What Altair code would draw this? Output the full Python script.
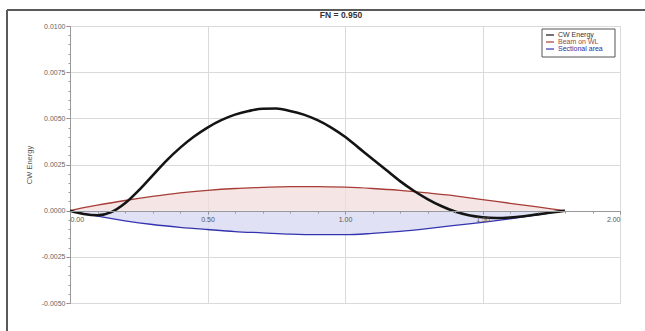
import altair as alt
import pandas as pd

# ---- data ----
cw_x = [0.00, 0.05, 0.10, 0.15, 0.20, 0.25, 0.30, 0.35, 0.40, 0.45, 0.50, 0.55,
        0.60, 0.65, 0.70, 0.75, 0.80, 0.85, 0.90, 0.95, 1.00, 1.05, 1.10, 1.15,
        1.20, 1.25, 1.30, 1.35, 1.40, 1.45, 1.50, 1.55, 1.60, 1.65, 1.70, 1.75, 1.80]
cw_energy = [0.0, -0.00018, -0.00025, -0.00008, 0.0004, 0.0011, 0.0019, 0.0027, 0.0034,
             0.0040, 0.0045, 0.0049, 0.0052, 0.0054, 0.00552, 0.00553, 0.0054, 0.0052,
             0.0049, 0.0045, 0.0040, 0.0034, 0.0028, 0.0022, 0.0016, 0.00108, 0.00063,
             0.00025, -0.00005, -0.00025, -0.00036, -0.0004, -0.00037, -0.0003, -0.0002,
             -0.0001, 0.0]

hull_x = [0.00, 0.05, 0.10, 0.20, 0.30, 0.40, 0.50, 0.60, 0.70, 0.80, 0.90, 1.00,
          1.10, 1.20, 1.30, 1.40, 1.50, 1.60, 1.70, 1.80]
beam_on_wl = [0.0, 0.00016, 0.0003, 0.00055, 0.00077, 0.00096, 0.0011, 0.0012, 0.00126,
              0.0013, 0.0013, 0.00127, 0.0012, 0.0011, 0.00096, 0.0008, 0.0006, 0.0004,
              0.0002, 0.0]
sectional_area = [0.0, -0.00016, -0.0003, -0.00055, -0.00075, -0.0009, -0.00102, -0.00113,
                  -0.0012, -0.00127, -0.0013, -0.0013, -0.00123, -0.00112, -0.00097,
                  -0.0008, -0.00063, -0.00044, -0.00023, 0.0]

series_names = ["CW Energy", "Beam on WL", "Sectional area"]
series_colors = ["#141414", "#a63d36", "#3434ae"]
legend_text_colors = ["#333333", "#9a4a44", "#2e2e9a"]

y_major = [-0.005, -0.0025, 0.0, 0.0025, 0.005, 0.0075, 0.01]
y_minor = [round(-0.005 + 0.0005 * i, 4) for i in range(31)]
x_major = [0.0, 0.5, 1.0, 1.5, 2.0]
x_minor = [round(0.1 * i, 1) for i in range(21)]

chart_title = "FN = 0.950"
FONT = "Liberation Sans"

cw_df = pd.DataFrame({"x": cw_x, "y": cw_energy, "series": "CW Energy"})
beam_df = pd.DataFrame({"x": hull_x, "y": beam_on_wl, "series": "Beam on WL"})
sect_df = pd.DataFrame({"x": hull_x, "y": sectional_area, "series": "Sectional area"})

xs = alt.Scale(domain=[0, 2], nice=False, zero=False)
ys = alt.Scale(domain=[-0.005, 0.01], nice=False, zero=False)
cs = alt.Scale(domain=series_names, range=series_colors)

y_label_expr = "replace(format(datum.value, '.4f'), '\u2212', '-')"

grid_x_axis = alt.Axis(values=x_major, grid=True, gridColor="#dadada", labels=False,
                       ticks=False, domain=False, title=None, orient="bottom")
main_y_axis = alt.Axis(values=y_major, grid=True, gridColor="#dadada", labelExpr=y_label_expr,
                       labelFontSize=7, labelColor="#666666", labelFont=FONT, labelPadding=1,
                       tickSize=4, tickColor="#888888", domainColor="#999999",
                       title="CW Energy", titleFont=FONT, titleFontSize=7.5,
                       titleFontWeight="normal", titleColor="#555555", titlePadding=8,
                       orient="left")
label_x_axis = alt.Axis(values=x_major, format=".2f", grid=False, labelFontSize=7,
                        labelColor="#555555", labelFont=FONT, labelPadding=1,
                        tickSize=3, tickColor="#888888", domainColor="#999999",
                        title=None, offset=-92, orient="bottom", zindex=1)
minor_x_axis = alt.Axis(values=x_minor, grid=False, labels=False, domain=False, tickSize=2,
                        tickColor="#999999", title=None, offset=-92, orient="bottom", zindex=1)
minor_y_axis = alt.Axis(values=y_minor, grid=False, labels=False, domain=False, tickSize=2,
                        tickColor="#999999", title=None, orient="left")

beam_area = alt.Chart(beam_df).mark_area(color="#f3dcdc", opacity=0.75, interpolate="monotone").encode(
    x=alt.X("x:Q", scale=xs, axis=grid_x_axis),
    y=alt.Y("y:Q", scale=ys, axis=main_y_axis),
)
sect_area = alt.Chart(sect_df).mark_area(color="#dadaf4", opacity=0.8, interpolate="monotone").encode(
    x=alt.X("x:Q", scale=xs, axis=None),
    y=alt.Y("y:Q", scale=ys, axis=None),
)

sect_line = alt.Chart(sect_df).mark_line(strokeWidth=1.3, interpolate="monotone").encode(
    x=alt.X("x:Q", scale=xs, axis=label_x_axis),
    y=alt.Y("y:Q", scale=ys, axis=None),
    color=alt.Color("series:N", scale=cs, legend=None),
)
beam_line = alt.Chart(beam_df).mark_line(strokeWidth=1.3, interpolate="monotone").encode(
    x=alt.X("x:Q", scale=xs, axis=None),
    y=alt.Y("y:Q", scale=ys, axis=None),
    color=alt.Color("series:N", scale=cs, legend=None),
)
cw_line = alt.Chart(cw_df).mark_line(strokeWidth=2.6, interpolate="monotone").encode(
    x=alt.X("x:Q", scale=xs, axis=minor_x_axis),
    y=alt.Y("y:Q", scale=ys, axis=minor_y_axis),
    color=alt.Color("series:N", scale=cs, legend=None),
)

# ---- decorations: outer frame, title and a boxed legend ----
one = alt.Data(values=[{"k": 1}])
frame_top = alt.Chart(one).mark_rule(color="#5a5a5a", strokeWidth=2).encode(
    x=alt.value(-63), x2=alt.value(580), y=alt.value(-16)
)
frame_left = alt.Chart(one).mark_rule(color="#5a5a5a", strokeWidth=2).encode(
    x=alt.value(-63), y=alt.value(-16), y2=alt.value(310)
)
title_mark = alt.Chart(one).mark_text(text=chart_title, font=FONT, fontSize=8.5, fontWeight="bold",
                                      color="#333333", align="center", baseline="middle").encode(
    x=alt.value(271), y=alt.value(-11)
)
legend_box = alt.Chart(one).mark_rect(fill="white", stroke="#555555", strokeWidth=1).encode(
    x=alt.value(472), x2=alt.value(545), y=alt.value(3), y2=alt.value(31)
)
legend_layers = [legend_box]
for i, (name, col, tcol) in enumerate(zip(series_names, series_colors, legend_text_colors)):
    row_y = 9 + 7 * i
    legend_layers.append(
        alt.Chart(one).mark_rule(color=col, strokeWidth=1.2).encode(
            x=alt.value(476), x2=alt.value(484), y=alt.value(row_y)
        )
    )
    legend_layers.append(
        alt.Chart(one).mark_text(text=name, color=tcol, font=FONT, fontSize=7,
                                 align="left", baseline="middle").encode(
            x=alt.value(488), y=alt.value(row_y)
        )
    )

chart = alt.layer(
    beam_area, sect_area, sect_line, beam_line, cw_line, frame_top, frame_left, title_mark,
    *legend_layers
).resolve_axis(x="independent", y="independent").properties(
    width=550, height=277,
    autosize=alt.AutoSizeParams(type="none"),
    padding={"left": 70, "top": 26, "right": 25, "bottom": 28},
).configure_view(stroke=None).configure(background="white")

chart.save("out.html", embed_options={"renderer": "svg", "actions": False})
